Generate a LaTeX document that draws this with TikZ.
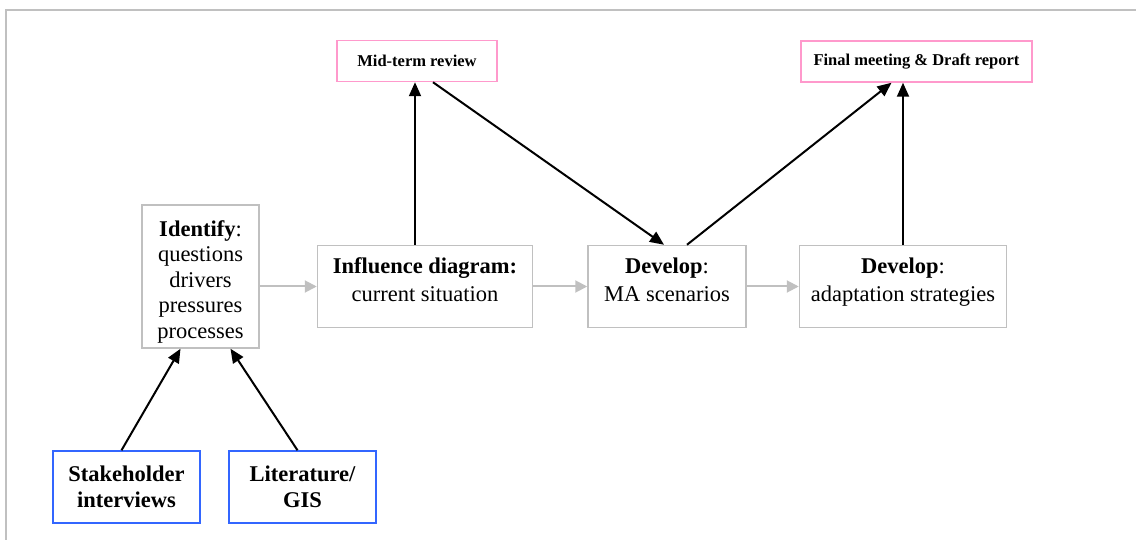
\documentclass[tikz,border=0pt]{standalone}
\usepackage{fontspec}
\setmainfont{Liberation Serif}
\usetikzlibrary{arrows.meta,calc}
\definecolor{boxgray}{RGB}{192,192,192}
\definecolor{pinkc}{RGB}{255,153,204}
\definecolor{bluec}{RGB}{51,102,255}
\newcommand{\toprule}[1]{\rule{0pt}{#1}}
\newcommand{\botrule}[1]{\rule[-#1]{0pt}{#1}}
\begin{document}
\begin{tikzpicture}[x=1pt,y=-1pt,
  basebox/.style={rectangle, inner sep=0pt, align=center, line width=1.5pt},
  graybox/.style={basebox, draw=boxgray, font=\fontsize{22.5}{25.5}\selectfont},
  pinkbox/.style={basebox, draw=pinkc, font=\fontsize{16.5}{19}\selectfont\bfseries},
  bluebox/.style={basebox, draw=bluec, font=\fontsize{22.5}{26}\selectfont\bfseries},
  grayarrow/.style={draw=boxgray, line width=2pt, -{Triangle[length=12pt,width=12pt]}},
  blackarrow/.style={draw=black, line width=2pt, -{Triangle[length=14pt,width=12pt]}}
]
\useasboundingbox (0,0) rectangle (1136,540);
\draw[boxgray, line width=2.5pt] (6,545) -- (6,10) -- (1140,10);

\node[graybox, minimum width=117pt, minimum height=143pt] (identify) at (200.5,276.5)
  {\toprule{26pt}\textbf{Identify}:\\questions\\drivers\\pressures\\processes\botrule{5pt}};
\node[graybox, minimum width=215pt, minimum height=82pt] (influence) at (425,286.5)
  {\toprule{18pt}\textbf{Influence diagram:}\\[2pt]current situation\botrule{16pt}};
\node[graybox, minimum width=158pt, minimum height=82pt] (ma) at (667,286.5)
  {\toprule{18pt}\textbf{Develop}:\\[2pt]MA scenarios\botrule{16pt}};
\node[graybox, minimum width=207pt, minimum height=82pt] (adapt) at (903,286.5)
  {\toprule{18pt}\textbf{Develop}:\\[2pt]adaptation strategies\botrule{16pt}};
\node[pinkbox, minimum width=160pt, minimum height=41pt] (mid) at (417,61)
  {Mid-term review};
\node[pinkbox, minimum width=231pt, minimum height=41pt] (final) at (916.5,61.5)
  {Final meeting \& Draft report};
\node[bluebox, minimum width=147pt, minimum height=72pt] (stake) at (126.5,487)
  {Stakeholder\\interviews};
\node[bluebox, minimum width=147pt, minimum height=72pt] (lit) at (302.5,487)
  {Literature/\\GIS};

\draw[grayarrow] (identify.east |- influence.west) -- (influence.west);
\draw[grayarrow] (influence.east) -- (ma.west);
\draw[grayarrow] (ma.east) -- (adapt.west);

\draw[blackarrow] ([xshift=-10pt]influence.north) -- ([xshift=-10pt]influence.north |- mid.south);
\draw[blackarrow] ([xshift=16pt]mid.south) -- ([xshift=-3pt]ma.north);
\draw[blackarrow] ([xshift=20pt]ma.north) -- ([xshift=-25pt]final.south);
\draw[blackarrow] (adapt.north) -- (adapt.north |- final.south);

\draw[blackarrow] ([xshift=-5pt]stake.north) -- ([xshift=-20pt]identify.south);
\draw[blackarrow] ([xshift=-5pt]lit.north) -- ([xshift=30pt]identify.south);
\end{tikzpicture}
\end{document}
